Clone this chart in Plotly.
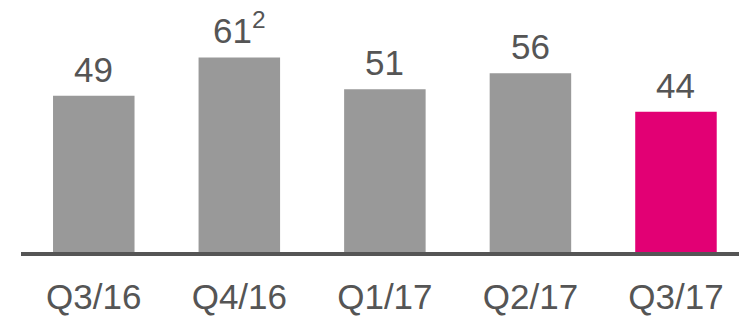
import plotly.graph_objects as go

# Quarterly values
quarters = ["Q3/16", "Q4/16", "Q1/17", "Q2/17", "Q3/17"]
values = [49, 61, 51, 56, 44]
footnotes = ["", "2", "", "", ""]

GREY = "#999999"
MAGENTA = "#E20074"
TEXT = "#555555"
FONT = "Liberation Sans, Arial, sans-serif"

colors = [GREY] * (len(quarters) - 1) + [MAGENTA]

fig = go.Figure(
    go.Bar(
        x=quarters,
        y=values,
        width=0.56,
        marker=dict(color=colors, line=dict(width=0)),
        hoverinfo="skip",
    )
)

# Value labels above each bar, with optional footnote superscript
for q, v, fn in zip(quarters, values, footnotes):
    label = str(v) + (f"<sup>{fn}</sup>" if fn else "")
    fig.add_annotation(
        x=q, y=v, text=label, showarrow=False,
        xanchor="center", yanchor="bottom", yshift=5,
        font=dict(family=FONT, size=35, color=TEXT),
    )

fig.update_layout(
    width=739, height=322,
    margin=dict(l=21, r=0, t=0, b=70, autoexpand=False),
    paper_bgcolor="white", plot_bgcolor="white",
    showlegend=False,
    font=dict(family=FONT, size=35, color=TEXT),
)
fig.update_xaxes(
    type="category", range=[-0.5, 4.433], automargin=False,
    showline=True, linecolor="#555555", linewidth=4,
    showgrid=False, zeroline=False,
    ticks="outside", ticklen=11, tickcolor="rgba(0,0,0,0)",
    tickfont=dict(family=FONT, size=35, color=TEXT),
)
fig.update_yaxes(range=[0, 79], visible=False, showgrid=False, zeroline=False,
                 automargin=False)

fig.write_html("out.html", config={"displayModeBar": False})
